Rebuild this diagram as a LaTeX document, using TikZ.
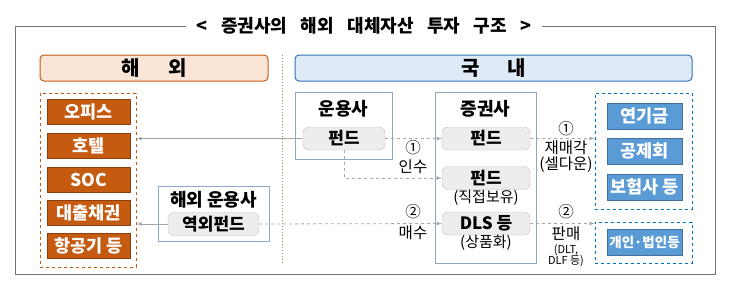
\documentclass[tikz,border=0pt]{standalone}
\usepackage{fontspec}
\setmainfont{Noto Sans CJK KR}
\usetikzlibrary{positioning}

\definecolor{orgdark}{HTML}{C55A11}
\definecolor{orglight}{HTML}{FBE5D6}
\definecolor{hdrblue}{HTML}{2E75B6}
\definecolor{hdrfill}{HTML}{DEEBF7}
\definecolor{itemblue}{HTML}{5B9BD5}
\definecolor{itemline}{HTML}{41719C}
\definecolor{dashblue}{HTML}{0070C0}
\definecolor{boxline}{HTML}{8EA9C8}
\definecolor{fundfill}{HTML}{EDEDED}
\definecolor{fundline}{HTML}{BFBFBF}
\definecolor{arrgray}{HTML}{A6A6A6}
\definecolor{sepgreen}{HTML}{70AD47}

\newcommand{\fs}[1]{\fontsize{#1}{#1}\selectfont}

\begin{document}
\begin{tikzpicture}[x=1pt, y=-1pt]
    \tikzstyle{frame} = [draw=black!55, line width=0.8pt]
    \tikzstyle{hdrout} = [rectangle, rounded corners=4pt, draw=orgdark, fill=orglight, line width=1pt, minimum height=26pt, font=\fs{20}\bfseries]
    \tikzstyle{hdrin} = [rectangle, rounded corners=4pt, draw=hdrblue, fill=hdrfill, line width=1pt, minimum height=26pt, font=\fs{20}\bfseries]
    \tikzstyle{orgitem} = [rectangle, draw=orgdark!70!black, fill=orgdark, text=white, minimum width=83pt, minimum height=25pt, inner sep=0pt, font=\fs{17.5}\bfseries]
    \tikzstyle{blueitem} = [rectangle, draw=itemline, fill=itemblue, text=white, minimum width=75pt, minimum height=26pt, inner sep=0pt, font=\fs{17.5}\bfseries]
    \tikzstyle{orggroup} = [rectangle, draw=orgdark, dashed, line width=1pt]
    \tikzstyle{bluegroup} = [rectangle, draw=dashblue, dashed, line width=1pt]
    \tikzstyle{actor} = [rectangle, draw=boxline, line width=0.8pt]
    \tikzstyle{fund} = [rectangle, rounded corners=6pt, draw=fundline, fill=fundfill, minimum height=23pt, inner sep=0pt, font=\fs{17}\bfseries]
    \tikzstyle{title} = [font=\fs{18}\bfseries]
    \tikzstyle{note} = [font=\fs{15}, inner sep=0pt]
    \tikzstyle{flow} = [font=\fs{15.5}, inner sep=0pt]
    \tikzstyle{small} = [font=\fs{11}, inner sep=0pt]
    \tikzstyle{line} = [draw=arrgray, line width=0.8pt, -latex]
    \tikzstyle{dline} = [draw=arrgray, line width=0.8pt, dashed, -latex]

    \useasboundingbox (0,0) rectangle (731,289);

    % outer frame with title
    \node [font=\fs{18}\bfseries, inner sep=10pt] (head) at (364,26) {<\hspace{0.75em}증권사의\hspace{0.75em}해외\hspace{0.75em}대체자산\hspace{0.75em}투자\hspace{0.75em}구조\hspace{0.75em}>};
    \draw [frame] (head.west) -| (15,274) -| (715,26) -- (head.east);

    % headers
    \node [hdrout, minimum width=228pt] (hout) at (154,68) {해\hspace{28pt}외};
    \node [hdrin, minimum width=397pt] (hin) at (493.5,68) {국\hspace{28pt}내};
    \draw [draw=sepgreen, line width=1pt, dotted] (282,55) -- (282,263);

    % overseas assets
    \node [orggroup, minimum width=96pt, minimum height=174pt] (assets) at (88,180) {};
    \node [orgitem] (office) at (88.5,112) {오피스};
    \node [orgitem] (hotel) at (88.5,146) {호텔};
    \node [orgitem] (soc) at (88.5,180) {SOC};
    \node [orgitem] (loan) at (88.5,213) {대출채권};
    \node [orgitem] (plane) at (88.5,246) {항공기 등};

    % overseas manager
    \node [actor, minimum width=111pt, minimum height=55pt] (omgr) at (213.5,213.5) {};
    \node [title] at (213.5,200) {해외 운용사};
    \node [fund, minimum width=91pt] (ofund) at (213.5,224) {역외펀드};

    % domestic manager
    \node [actor, minimum width=97pt, minimum height=67pt] (dmgr) at (343.5,125.5) {};
    \node [title] at (343.5,109) {운용사};
    \node [fund, minimum width=82pt] (ufund) at (344,138.5) {펀드};

    % securities firm
    \node [actor, minimum width=101pt, minimum height=171pt] (sec) at (485.5,177.5) {};
    \node [title] at (485.5,109) {증권사};
    \node [fund, minimum width=88pt] (sfund) at (486,138.5) {펀드};
    \node [fund, minimum width=88pt] (sown) at (486,178) {펀드};
    \node [note] at (486,198) {(직접보유)};
    \node [fund, minimum width=88pt] (dls) at (486,223.5) {DLS 등};
    \node [note] at (486,243) {(상품화)};

    % domestic investors
    \node [bluegroup, minimum width=97pt, minimum height=116pt] (inst) at (643.5,151) {};
    \node [blueitem] (pension) at (644.5,116) {연기금};
    \node [blueitem] (mutual) at (644.5,151) {공제회};
    \node [blueitem] (insur) at (644.5,187) {보험사 등};
    \node [bluegroup, minimum width=97pt, minimum height=41pt] (retail) at (643.5,242.5) {};
    \node [blueitem, font=\fs{13.5}\bfseries] (person) at (644.5,242) {개인·법인등};

    % flows
    \draw [line] (ufund.west) -- (ufund.west -| assets.east);
    \draw [line] (ofund.west) -- (ofund.west -| assets.east);
    \draw [dline] (ufund.east) -- (sfund.west);
    \draw [dline] (ufund.south) |- (sown.west);
    \draw [dline] (ofund.east) -- (dls.west);
    \draw [dline] (sfund.east) -- (sfund.east -| inst.west);
    \draw [dline] (dls.east) -- (dls.east -| retail.west);

    % flow labels
    \node [flow] at (413,148) {①};
    \node [flow] at (413,167) {인수};
    \node [flow] at (413,212) {②};
    \node [flow] at (413,233) {매수};
    \node [flow] at (566,129) {①};
    \node [flow] at (566,148) {재매각};
    \node [flow] at (566,165) {(셀다운)};
    \node [flow] at (566,212) {②};
    \node [flow] at (566,234) {판매};
    \node [small] at (566,250) {(DLT,};
    \node [small] at (566,261) {DLF 등)};
\end{tikzpicture}
\end{document}
